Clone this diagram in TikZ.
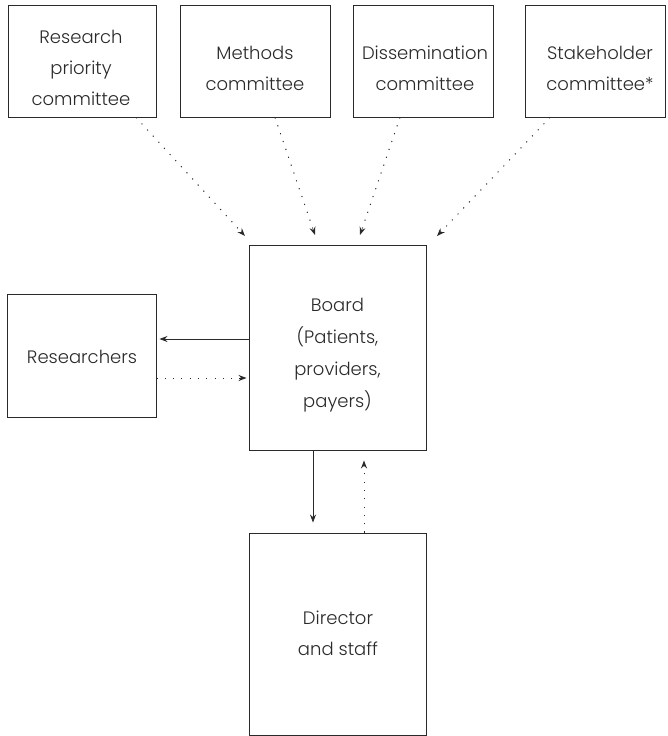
\documentclass[tikz,border=0pt]{standalone}
\usepackage{fontspec}
\setmainfont{Poppins}[UprightFont=* Light]
\usetikzlibrary{arrows.meta}
\definecolor{ink}{HTML}{2A2A2A}
\begin{document}
\begin{tikzpicture}[x=1pt,y=-1pt,
  box/.style={draw=ink,line width=0.9pt,rectangle,inner sep=0pt},
  txt/.style={align=center,inner sep=0pt,font=\fontsize{18}{31}\selectfont,text=ink},
  solidarrow/.style={draw=ink,line width=0.8pt,-{Stealth[length=8pt,width=6pt]}},
  dotarrow/.style={draw=ink,line width=1pt,dash pattern=on 1.1pt off 7.2pt,-{Stealth[length=8pt,width=6pt]}}
]
\useasboundingbox (0,0) rectangle (668,736);
\node[box,minimum width=148pt,minimum height=112pt] (rp) at (82,61) {};
\node[box,minimum width=150pt,minimum height=112pt] (mc) at (255,61) {};
\node[box,minimum width=140pt,minimum height=112pt] (dc) at (423,61) {};
\node[box,minimum width=140pt,minimum height=112pt] (sc) at (595,61) {};
\node[box,minimum width=177pt,minimum height=205pt] (board) at (337.5,347.5) {};
\node[box,minimum width=149pt,minimum height=123pt] (res) at (81.5,355.5) {};
\node[box,minimum width=177pt,minimum height=202pt] (dir) at (337.5,634) {};
% texts
\node[txt] (rpt) at (81,68) {Research\\priority\\committee};
\node[txt] (mct) at (255,68) {Methods\\committee};
\node[txt] (dct) at (425,68) {Dissemination\\committee};
\node[txt] (sct) at (600,68) {Stakeholder\\committee*};
\node[txt,font=\fontsize{18}{32}\selectfont] (boardt) at (337.5,355) {Board\\(Patients,\\providers,\\payers)};
\node[txt] (rest) at (82,357) {Researchers};
\node[txt] (dirt) at (338,633) {Director\\and staff};
% diagonal starts and tips
\coordinate (s1) at (136,117); \coordinate (t1) at (245,236);
\coordinate (s2) at (275,117); \coordinate (t2) at (315,235);
\coordinate (s3) at (400,117); \coordinate (t3) at (360,235);
\coordinate (s4) at (550,117); \coordinate (t4) at (437,236);
\draw[dotarrow] (rp.south -| s1) -- (t1);
\draw[dotarrow] (mc.south -| s2) -- (t2);
\draw[dotarrow] (dc.south -| s3) -- (t3);
\draw[dotarrow] (sc.south -| s4) -- (t4);
% horizontal
\coordinate (h1) at (0,339);
\coordinate (h2) at (0,378);
\draw[solidarrow,shorten >=3pt] (board.west |- h1) -- (res.east |- h1);
\draw[dotarrow,shorten >=2pt] (res.east |- h2) -- (board.west |- h2);
% vertical
\coordinate (v1) at (313,0);
\coordinate (v2) at (364,0);
\draw[solidarrow,shorten >=10pt] (board.south -| v1) -- (dir.north -| v1);
\draw[dotarrow,shorten >=10pt] (dir.north -| v2) -- (board.south -| v2);
\end{tikzpicture}
\end{document}
